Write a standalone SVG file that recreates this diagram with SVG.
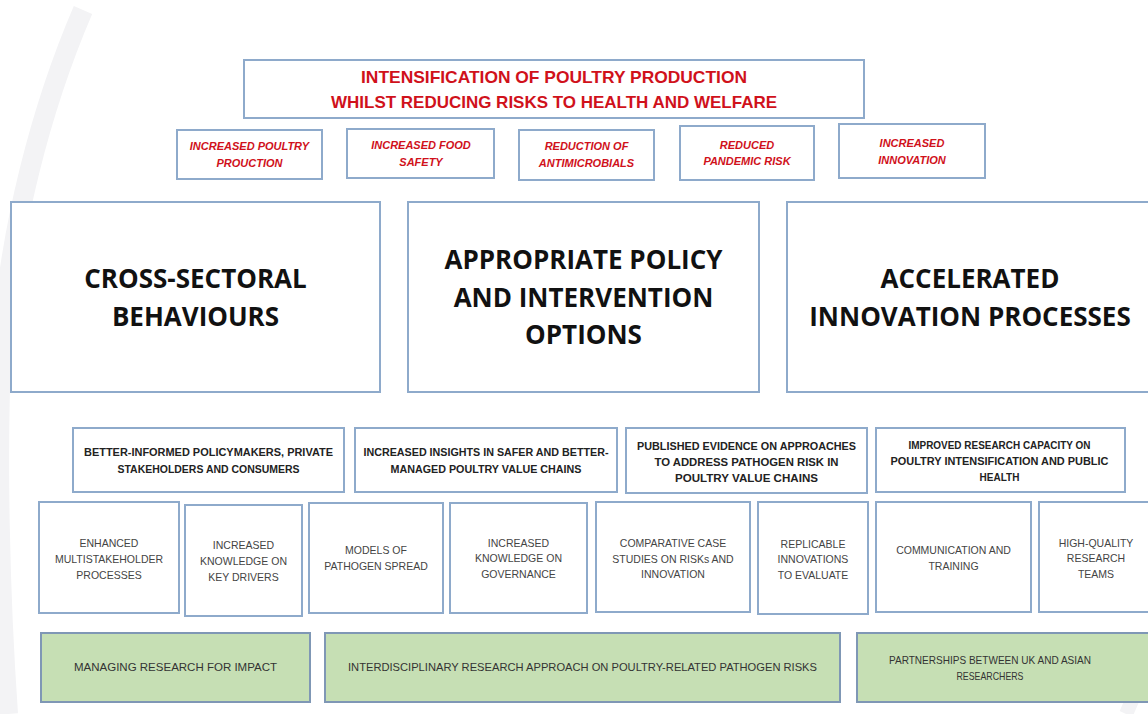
<svg xmlns="http://www.w3.org/2000/svg" width="1148" height="714" viewBox="0 0 1148 714">
<style>
.box{fill:#fff;stroke:#8eaacb;stroke-width:2}
.green{fill:#c6dfb4;stroke:#7f97b5;stroke-width:2}
.red{font-family:"Liberation Sans",Arial,sans-serif;font-weight:bold;fill:#d0111b;text-anchor:middle}
.redi{font-family:"Liberation Sans",Arial,sans-serif;font-weight:bold;font-style:italic;font-size:11px;fill:#d0111b;text-anchor:middle}
.big{font-family:"Open Sans","Liberation Sans",sans-serif;font-weight:bold;font-size:26px;fill:#111;text-anchor:middle}
.out{font-family:"Liberation Sans",Arial,sans-serif;font-weight:bold;font-size:10px;fill:#222;text-anchor:middle}
.act{font-family:"Liberation Sans",Arial,sans-serif;font-size:10.5px;fill:#444;text-anchor:middle}
.gt{font-family:"Liberation Sans",Arial,sans-serif;font-size:11px;fill:#333;text-anchor:middle}
</style>
<rect width="1148" height="714" fill="#fff"/>
<path d="M83,10 C40,110 10,230 2,340 C-4,450 0,600 8,714" fill="none" stroke="#f3f3f5" stroke-width="20"/>
<path d="M1148,645 Q1140,685 1126,714" fill="none" stroke="#f3f3f5" stroke-width="14"/>
<g id="connectors"></g>
<g id="goal"><rect class="box" x="244" y="60" width="620" height="58"/>
<text class="red" x="554" y="83" font-size="16.5" textLength="386" lengthAdjust="spacingAndGlyphs">INTENSIFICATION OF POULTRY PRODUCTION</text>
<text class="red" x="554" y="108" font-size="16.5" textLength="446" lengthAdjust="spacingAndGlyphs">WHILST REDUCING RISKS TO HEALTH AND WELFARE</text></g>
<g id="o1"><rect class="box" x="177" y="130" width="145" height="49"/><text class="redi" x="249.5" y="150">INCREASED POULTRY</text><text class="redi" x="249.5" y="167">PROUCTION</text></g>
<g id="o2"><rect class="box" x="347" y="129" width="147" height="49"/><text class="redi" x="421" y="149">INCREASED FOOD</text><text class="redi" x="421" y="166">SAFETY</text></g>
<g id="o3"><rect class="box" x="519" y="130" width="135" height="50"/><text class="redi" x="586.5" y="150">REDUCTION OF</text><text class="redi" x="586.5" y="167">ANTIMICROBIALS</text></g>
<g id="o4"><rect class="box" x="680" y="126" width="134" height="54"/><text class="redi" x="747" y="149">REDUCED</text><text class="redi" x="747" y="165">PANDEMIC RISK</text></g>
<g id="o5"><rect class="box" x="839" y="124" width="146" height="54"/><text class="redi" x="912" y="147">INCREASED</text><text class="redi" x="912" y="164">INNOVATION</text></g>
<g id="b1"><rect class="box" x="11" y="202" width="369" height="190"/><text class="big" x="195.5" y="288">CROSS-SECTORAL</text><text class="big" x="195.5" y="326">BEHAVIOURS</text></g>
<g id="b2"><rect class="box" x="408" y="202" width="351" height="190"/><text class="big" x="583.5" y="269">APPROPRIATE POLICY</text><text class="big" x="583.5" y="307">AND INTERVENTION</text><text class="big" x="583.5" y="344">OPTIONS</text></g>
<g id="b3"><rect class="box" x="787" y="202" width="370" height="190"/><text class="big" x="970" y="288">ACCELERATED</text><text class="big" x="970" y="326">INNOVATION PROCESSES</text></g>
<g id="r1"><rect class="box" x="73" y="428" width="271" height="64"/><text class="out" x="208.5" y="456" textLength="249" lengthAdjust="spacingAndGlyphs">BETTER-INFORMED POLICYMAKERS, PRIVATE</text><text class="out" x="208.5" y="473" textLength="182" lengthAdjust="spacingAndGlyphs">STAKEHOLDERS AND CONSUMERS</text></g>
<g id="r2"><rect class="box" x="355" y="428" width="262" height="64"/><text class="out" x="486" y="456" textLength="245" lengthAdjust="spacingAndGlyphs">INCREASED INSIGHTS IN SAFER AND BETTER-</text><text class="out" x="486" y="473" textLength="191" lengthAdjust="spacingAndGlyphs">MANAGED POULTRY VALUE CHAINS</text></g>
<g id="r3"><rect class="box" x="626" y="428" width="241" height="65"/><text class="out" x="746.5" y="450" textLength="219" lengthAdjust="spacingAndGlyphs">PUBLISHED EVIDENCE ON APPROACHES</text><text class="out" x="746.5" y="466" textLength="184" lengthAdjust="spacingAndGlyphs">TO ADDRESS PATHOGEN RISK IN</text><text class="out" x="746.5" y="482" textLength="143" lengthAdjust="spacingAndGlyphs">POULTRY VALUE CHAINS</text></g>
<g id="r4"><rect class="box" x="876" y="428" width="249" height="64"/><text class="out" x="999.5" y="449" textLength="182" lengthAdjust="spacingAndGlyphs">IMPROVED RESEARCH CAPACITY ON</text><text class="out" x="999.5" y="465" textLength="218" lengthAdjust="spacingAndGlyphs">POULTRY INTENSIFICATION AND PUBLIC</text><text class="out" x="999.5" y="481">HEALTH</text></g>
<g id="a1"><rect class="box" x="39" y="502" width="140" height="111"/><text class="act" x="109" y="547">ENHANCED</text><text class="act" x="109" y="563">MULTISTAKEHOLDER</text><text class="act" x="109" y="579">PROCESSES</text></g>
<g id="a2"><rect class="box" x="185" y="505" width="117" height="111"/><text class="act" x="243.5" y="549">INCREASED</text><text class="act" x="243.5" y="565">KNOWLEDGE ON</text><text class="act" x="243.5" y="581">KEY DRIVERS</text></g>
<g id="a3"><rect class="box" x="309" y="503" width="134" height="110"/><text class="act" x="376" y="554">MODELS OF</text><text class="act" x="376" y="570">PATHOGEN SPREAD</text></g>
<g id="a4"><rect class="box" x="450" y="503" width="137" height="110"/><text class="act" x="518.5" y="547">INCREASED</text><text class="act" x="518.5" y="562">KNOWLEDGE ON</text><text class="act" x="518.5" y="578">GOVERNANCE</text></g>
<g id="a5"><rect class="box" x="596" y="502" width="154" height="110"/><text class="act" x="673" y="547">COMPARATIVE CASE</text><text class="act" x="673" y="563">STUDIES ON RISKs AND</text><text class="act" x="673" y="578">INNOVATION</text></g>
<g id="a6"><rect class="box" x="758" y="502" width="110" height="112"/><text class="act" x="813" y="548">REPLICABLE</text><text class="act" x="813" y="563">INNOVATIONS</text><text class="act" x="813" y="579">TO EVALUATE</text></g>
<g id="a7"><rect class="box" x="876" y="502" width="155" height="110"/><text class="act" x="953.5" y="554">COMMUNICATION AND</text><text class="act" x="953.5" y="570">TRAINING</text></g>
<g id="a8"><rect class="box" x="1039" y="502" width="115" height="110"/><text class="act" x="1096" y="547">HIGH-QUALITY</text><text class="act" x="1096" y="562">RESEARCH</text><text class="act" x="1096" y="578">TEAMS</text></g>
<g id="g1"><rect class="green" x="41" y="633" width="269" height="69"/><text class="gt" x="175.5" y="671" textLength="203" lengthAdjust="spacingAndGlyphs">MANAGING RESEARCH FOR IMPACT</text></g>
<g id="g2"><rect class="green" x="325" y="633" width="515" height="69"/><text class="gt" x="582.5" y="671" textLength="469" lengthAdjust="spacingAndGlyphs">INTERDISCIPLINARY RESEARCH APPROACH ON POULTRY-RELATED PATHOGEN RISKS</text></g>
<g id="g3"><rect class="green" x="857" y="633" width="300" height="69"/><text class="gt" x="990" y="664" textLength="202" lengthAdjust="spacingAndGlyphs">PARTNERSHIPS BETWEEN UK AND ASIAN</text><text class="gt" x="990" y="680" textLength="67" lengthAdjust="spacingAndGlyphs">RESEARCHERS</text></g>
</svg>
